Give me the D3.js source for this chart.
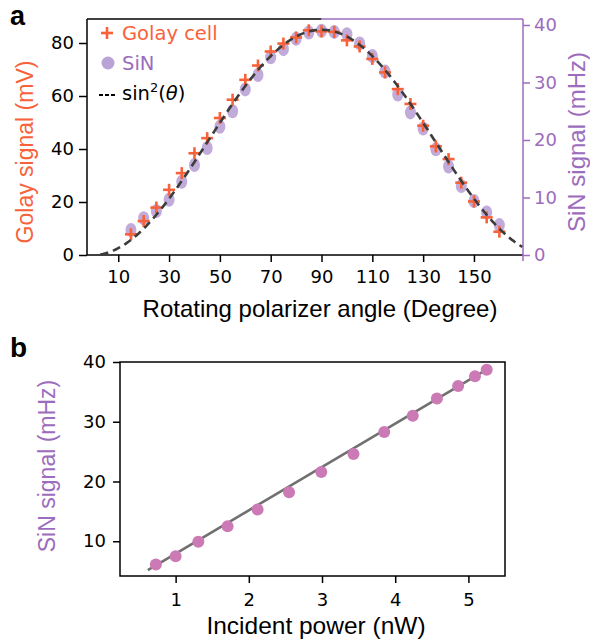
<!DOCTYPE html>
<html>
<head>
<meta charset="utf-8">
<script src="https://cdn.jsdelivr.net/npm/d3@7"></script>
<style>
  body { margin: 0; background: #fff; }
  svg { display: block; }
  .tick text { font-family: "DejaVu Sans", sans-serif; font-size: 18px; }
</style>
</head>
<body>
<svg id="main" width="590" height="644"></svg>
<script>
// panel a data
var angles = [15, 20, 25, 30, 35, 40, 45, 50, 55, 60, 65, 70, 75, 80, 85, 90, 95, 100, 105, 110, 115, 120, 125, 130, 135, 140, 145, 150, 155, 160];
var golay = [7.8, 12.8, 17.9, 24.6, 30.9, 38.4, 44.1, 51.7, 58.6, 66.1, 71.5, 76.8, 79.8, 82.1, 84.8, 84.4, 84.2, 81.0, 78.7, 74.0, 68.9, 62.6, 57.0, 48.8, 41.0, 36.2, 27.3, 20.2, 14.2, 8.8];
var sinA = [4.35, 6.4, 7.65, 9.6, 12.75, 15.65, 18.6, 22.3, 25.0, 28.8, 31.3, 34.4, 35.8, 37.6, 38.7, 39.0, 38.8, 38.4, 36.8, 34.6, 31.9, 27.9, 24.8, 22.0, 18.4, 15.4, 12.0, 9.4, 7.4, 5.2];
var fitAmp = 85;          // mV, amplitude of sin^2 fit
var fitRange = [3, 169];  // degrees covered by fit curve
var xTicksA = [10, 30, 50, 70, 90, 110, 130, 150];
var yTicksL = [0, 20, 40, 60, 80];
var yTicksR = [0, 10, 20, 30, 40];

// panel b data
var power = [0.73, 1.0, 1.31, 1.71, 2.12, 2.55, 2.99, 3.43, 3.85, 4.24, 4.57, 4.86, 5.09, 5.25];
var sinB = [6.1, 7.5, 9.9, 12.5, 15.3, 18.2, 21.6, 24.6, 28.3, 31.0, 33.9, 36.0, 37.6, 38.7];
var fitPower = [0.62, 5.27];
var fitSignal = [5.15, 38.9];
var xTicksB = [1, 2, 3, 4, 5];
var yTicksB = [10, 20, 30, 40];

var orange = "#f8623a", purple = "#9c6cbd", lilac = "#b9a2d6", pink = "#cc7ab6";
var labelFont = '"Liberation Sans", Arial, sans-serif';

var svg = d3.select("svg#main");

// ---------- panel a ----------
var xA = d3.scaleLinear().domain([-2.3, 169.3]).range([87, 523]);
var yL = d3.scaleLinear().domain([0, 89.06]).range([255, 19]);
var yR = d3.scaleLinear().domain([0, 41.04]).range([255, 19]);

var gA = svg.append("g");

gA.append("g").attr("transform", "translate(0,255)")
  .call(d3.axisBottom(xA).tickValues(xTicksA).tickSize(7).tickPadding(8).tickSizeOuter(0))
  .call(function(g) { g.select(".domain").remove(); });
gA.append("g").attr("transform", "translate(87,0)")
  .call(d3.axisLeft(yL).tickValues(yTicksL).tickSize(8).tickPadding(5).tickSizeOuter(0))
  .call(function(g) { g.select(".domain").remove(); });
var rAx = gA.append("g").attr("transform", "translate(523,0)")
  .call(d3.axisRight(yR).tickValues(yTicksR).tickSize(7).tickPadding(4).tickSizeOuter(0))
  .call(function(g) { g.select(".domain").remove(); });
rAx.selectAll("line").attr("stroke", purple).attr("stroke-width", 1.5);
rAx.selectAll("text").attr("fill", purple);
gA.selectAll(".tick line").filter(function() { return d3.select(this).attr("stroke") !== purple; })
  .attr("stroke", "#000").attr("stroke-width", 1.5);

// spines
gA.append("line").attr("x1", 87).attr("x2", 87).attr("y1", 19).attr("y2", 255).attr("stroke", "#000").attr("stroke-width", 1.5);
gA.append("line").attr("x1", 87).attr("x2", 523).attr("y1", 255).attr("y2", 255).attr("stroke", "#000").attr("stroke-width", 1.5);
gA.append("line").attr("x1", 87).attr("x2", xA(90)).attr("y1", 19).attr("y2", 19).attr("stroke", "#000").attr("stroke-width", 1.5);
gA.append("line").attr("x1", xA(90)).attr("x2", 523).attr("y1", 19).attr("y2", 19).attr("stroke", purple).attr("stroke-width", 1.5);
gA.append("line").attr("x1", 523).attr("x2", 523).attr("y1", 19).attr("y2", 261).attr("stroke", purple).attr("stroke-width", 1.5);

// SiN markers (ellipses)
gA.selectAll("ellipse.sin").data(angles).enter().append("ellipse")
  .attr("class", "sin")
  .attr("cx", function(d) { return xA(d); })
  .attr("cy", function(d, i) { return yR(sinA[i]); })
  .attr("rx", 5.5).attr("ry", 7)
  .attr("fill", lilac).attr("fill-opacity", 0.9);

// Golay plus markers
gA.selectAll("g.golay").data(angles).enter().append("g")
  .attr("class", "golay")
  .attr("transform", function(d, i) { return "translate(" + xA(d) + "," + yL(golay[i]) + ")"; })
  .each(function() {
    var g = d3.select(this);
    g.append("line").attr("x1", -6).attr("x2", 6).attr("y1", 0).attr("y2", 0);
    g.append("line").attr("x1", 0).attr("x2", 0).attr("y1", -6).attr("y2", 6);
  })
  .selectAll("line").attr("stroke", orange).attr("stroke-width", 2.6);

// sin^2 fit curve
var thetas = d3.range(fitRange[0], fitRange[1] + 0.5, 1);
var line = d3.line()
  .x(function(t) { return xA(t); })
  .y(function(t) { var s = Math.sin(t * Math.PI / 180); return yL(fitAmp * s * s); });
gA.append("path").datum(thetas).attr("d", line)
  .attr("fill", "none").attr("stroke", "#3c3c3c").attr("stroke-width", 2.6)
  .attr("stroke-dasharray", "8,5");

// legend
var leg = gA.append("g").style("font-family", '"DejaVu Sans", sans-serif').style("font-size", "19.5px");
leg.append("line").attr("x1", 101).attr("x2", 113).attr("y1", 33).attr("y2", 33).attr("stroke", orange).attr("stroke-width", 2.6);
leg.append("line").attr("x1", 107).attr("x2", 107).attr("y1", 27).attr("y2", 39).attr("stroke", orange).attr("stroke-width", 2.6);
leg.append("text").attr("x", 122).attr("y", 40).attr("fill", orange).text("Golay cell");
leg.append("circle").attr("cx", 108).attr("cy", 63).attr("r", 6.5).attr("fill", lilac);
leg.append("text").attr("x", 122).attr("y", 70).attr("fill", purple).text("SiN");
leg.append("line").attr("x1", 99).attr("x2", 115).attr("y1", 95).attr("y2", 95)
  .attr("stroke", "#000").attr("stroke-width", 2).attr("stroke-dasharray", "4,2");
var st = leg.append("text").attr("x", 122).attr("y", 100).attr("fill", "#000");
st.append("tspan").text("sin");
st.append("tspan").attr("dy", -8).style("font-size", "13px").text("2");
st.append("tspan").attr("dy", 8).text("(");
st.append("tspan").style("font-style", "italic").text("θ");
st.append("tspan").text(")");

// axis labels
gA.append("text").attr("transform", "translate(33,152) rotate(-90)")
  .attr("text-anchor", "middle").attr("fill", orange)
  .style("font-family", labelFont).style("font-size", "23px").text("Golay signal (mV)");
gA.append("text").attr("transform", "translate(585,142) rotate(-90)")
  .attr("text-anchor", "middle").attr("fill", purple)
  .style("font-family", labelFont).style("font-size", "24px").text("SiN signal (mHz)");
gA.append("text").attr("x", 320).attr("y", 317).attr("text-anchor", "middle")
  .style("font-family", labelFont).style("font-size", "24px").text("Rotating polarizer angle (Degree)");

svg.append("text").attr("x", 10).attr("y", 25)
  .style("font-family", labelFont).style("font-weight", "bold").style("font-size", "27px").text("a");

// ---------- panel b ----------
var xB = d3.scaleLinear().domain([0.24, 5.5]).range([120, 505]);
var yB = d3.scaleLinear().domain([4.18, 40]).range([576, 362]);

var gB = svg.append("g");
gB.append("g").attr("transform", "translate(0,576)")
  .call(d3.axisBottom(xB).tickValues(xTicksB).tickFormat(d3.format("d")).tickSize(7).tickPadding(10).tickSizeOuter(0))
  .call(function(g) { g.select(".domain").remove(); });
gB.append("g").attr("transform", "translate(120,0)")
  .call(d3.axisLeft(yB).tickValues(yTicksB).tickFormat(d3.format("d")).tickSize(7).tickPadding(7).tickSizeOuter(0))
  .call(function(g) { g.select(".domain").remove(); });
gB.selectAll(".tick line").attr("stroke", "#000").attr("stroke-width", 1.5);

gB.append("rect").attr("x", 120).attr("y", 362).attr("width", 385).attr("height", 214)
  .attr("fill", "none").attr("stroke", "#000").attr("stroke-width", 1.5);

gB.append("path").datum(fitPower)
  .attr("d", d3.line().x(function(d) { return xB(d); }).y(function(d, i) { return yB(fitSignal[i]); }))
  .attr("fill", "none").attr("stroke", "#707070").attr("stroke-width", 2.6);

gB.selectAll("circle.pt").data(power).enter().append("circle")
  .attr("class", "pt")
  .attr("cx", function(d) { return xB(d); })
  .attr("cy", function(d, i) { return yB(sinB[i]); })
  .attr("r", 6).attr("fill", pink);

gB.append("text").attr("transform", "translate(55,466) rotate(-90)")
  .attr("text-anchor", "middle").attr("fill", purple)
  .style("font-family", labelFont).style("font-size", "23px").text("SiN signal (mHz)");
gB.append("text").attr("x", 316).attr("y", 634).attr("text-anchor", "middle")
  .style("font-family", labelFont).style("font-size", "24.5px").text("Incident power (nW)");

svg.append("text").attr("x", 10).attr("y", 357)
  .style("font-family", labelFont).style("font-weight", "bold").style("font-size", "28px").text("b");
</script>
</body>
</html>
